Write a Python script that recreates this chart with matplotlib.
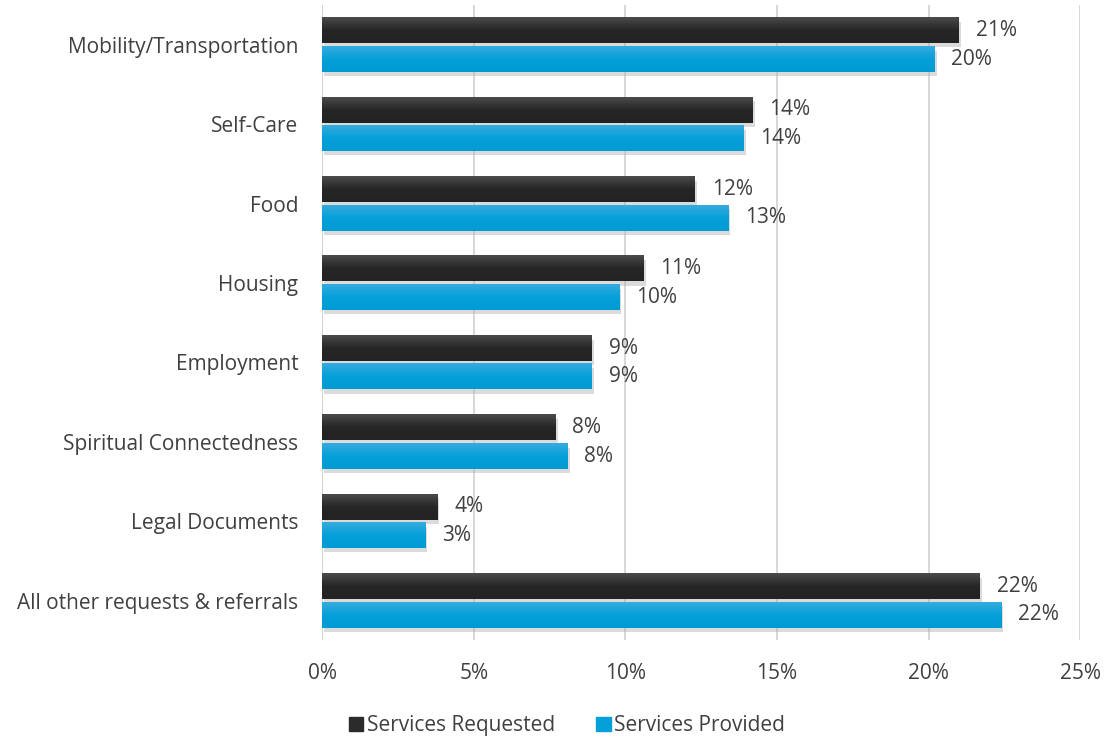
import numpy as np
import matplotlib
matplotlib.use("Agg")
import matplotlib.pyplot as plt
import matplotlib.patheffects as pe
from matplotlib.colors import LinearSegmentedColormap
from matplotlib.patches import Patch

categories = ["Mobility/Transportation", "Self-Care", "Food", "Housing",
              "Employment", "Spiritual Connectedness", "Legal Documents",
              "All other requests & referrals"]
requested = [21.0, 14.2, 12.3, 10.6, 8.9, 7.7, 3.8, 21.7]
provided = [20.2, 13.9, 13.4, 9.8, 8.9, 8.1, 3.4, 22.4]
xticks = [0, 5, 10, 15, 20, 25]

plt.rcParams['font.family'] = ['Open Sans', 'DejaVu Sans']
text_col = "#404040"
fs = 15

fig = plt.figure(figsize=(11.05, 7.36), dpi=100)
ax = fig.add_axes([0.2915, 0.13, 0.686, 0.863])

y = np.arange(len(categories))
h = 0.32
off = 0.18
shadow = [pe.SimplePatchShadow(offset=(1.5, -3), shadow_rgbFace="#b0b0b0", alpha=0.45), pe.Normal()]
b1 = ax.barh(y - off, requested, height=h, color="#2b2b2b", zorder=3, path_effects=shadow)
b2 = ax.barh(y + off, provided, height=h, color="#00a0d8", zorder=3, path_effects=shadow)

# vertical gradient fill on each bar
grads = [
    (b1, LinearSegmentedColormap.from_list("k", ["#4b4b4b", "#262626", "#232323"])),
    (b2, LinearSegmentedColormap.from_list("b", ["#35abde", "#05a0d9", "#009bd3"])),
]
g = np.linspace(0, 1, 64).reshape(-1, 1)
for bars, cmap in grads:
    for p in bars:
        x0, y0 = p.get_x(), p.get_y()
        w, hh = p.get_width(), p.get_height()
        ax.imshow(g, cmap=cmap, aspect="auto", extent=(x0, x0 + w, y0 + hh, y0),
                  zorder=4, interpolation="bilinear")

for bars, vals in ((b1, requested), (b2, provided)):
    for p, v in zip(bars, vals):
        ax.text(p.get_width() + 0.55, p.get_y() + p.get_height() / 2, f"{v:.0f}%",
                va="center", ha="left", fontsize=fs, color=text_col, zorder=5)

ax.set_xlim(0, 25)
ax.set_ylim(len(categories) - 0.5, -0.5)
ax.set_xticks(xticks)
ax.set_xticklabels([f"{t}%" for t in xticks])
ax.set_yticks(y)
ax.set_yticklabels(categories)
ax.tick_params(axis="both", length=0, labelsize=fs, colors=text_col)
ax.tick_params(axis="x", pad=16)
ax.tick_params(axis="y", pad=17)
ax.xaxis.grid(True, color="#d4d4d4", linewidth=1.3, zorder=0)
for s in ax.spines.values():
    s.set_visible(False)
ax.axvline(0, color="#d4d4d4", linewidth=1.3, zorder=1)

handles = [Patch(color="#2b2b2b", label="Services Requested"),
           Patch(color="#05a0d9", label="Services Provided")]
fig.legend(handles=handles, loc="lower center", ncol=2, frameon=False,
           bbox_to_anchor=(0.513, -0.026), fontsize=fs, handlelength=0.7,
           handleheight=0.7, handletextpad=0.15, columnspacing=2.0,
           labelcolor=text_col)

fig.savefig("out.png", dpi=100)
